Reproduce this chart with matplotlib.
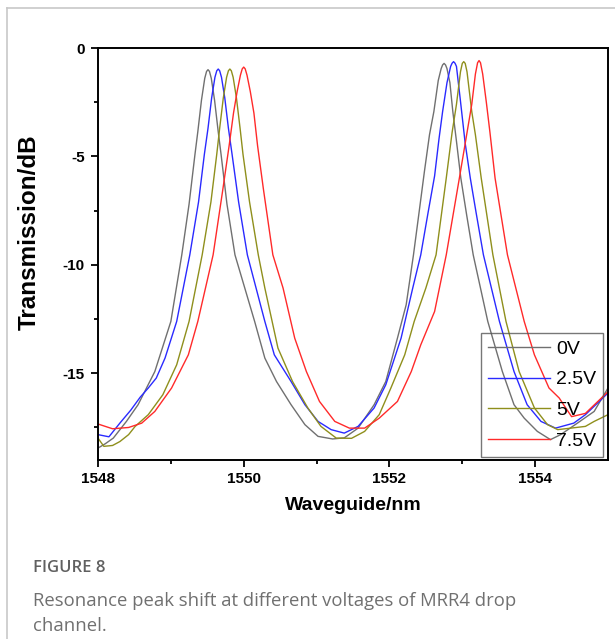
import matplotlib
matplotlib.use("Agg")
import matplotlib.pyplot as plt
from matplotlib.lines import Line2D

# wavelength (nm) / transmission (dB)
wl_0v = [1548.00, 1548.10, 1548.21, 1548.39, 1548.55, 1548.78, 1549.00, 1549.15, 1549.25,
         1549.33, 1549.37, 1549.42, 1549.465, 1549.49, 1549.51, 1549.53, 1549.555, 1549.60,
         1549.65, 1549.69, 1549.77, 1549.88, 1550.15, 1550.29, 1550.45, 1550.65, 1550.84,
         1551.02, 1551.22, 1551.38, 1551.57, 1551.79, 1551.95, 1552.11, 1552.23, 1552.33,
         1552.41, 1552.48, 1552.55, 1552.61, 1552.67, 1552.71, 1552.73, 1552.75, 1552.77,
         1552.79, 1552.83, 1552.87, 1552.92, 1552.98, 1553.06, 1553.15, 1553.35, 1553.55,
         1553.71, 1553.85, 1554.03, 1554.21, 1554.35, 1554.58, 1554.81, 1555.00]
db_0v = [-18.45, -18.25, -17.99, -17.22, -16.45, -14.92, -12.61, -9.54, -7.2,
         -4.93, -3.86, -2.41, -1.4, -1.08, -1.00, -1.08, -1.4, -2.41,
         -3.86, -4.93, -7.2, -9.54, -12.61, -14.30, -15.38, -16.45, -17.37,
         -17.91, -18.03, -17.98, -17.53, -16.45, -15.38, -13.38, -11.84, -9.54,
         -7.5, -5.7, -4.0, -2.93, -1.5, -0.95, -0.78, -0.71, -0.78,
         -0.95, -1.6, -2.93, -4.3, -6.0, -7.7, -9.54, -12.61, -14.92,
         -16.45, -17.07, -17.68, -18.06, -17.83, -17.30, -16.76, -15.68]

wl_25v = [1548.00, 1548.15, 1548.30, 1548.45, 1548.58, 1548.69, 1548.80, 1548.92, 1549.08,
          1549.26, 1549.38, 1549.46, 1549.51, 1549.56, 1549.605, 1549.63, 1549.65, 1549.67,
          1549.695, 1549.74, 1549.79, 1549.84, 1549.93, 1550.05, 1550.29, 1550.42, 1550.65,
          1550.84, 1551.02, 1551.20, 1551.38, 1551.57, 1551.79, 1551.95, 1552.16, 1552.32,
          1552.43, 1552.53, 1552.62, 1552.68, 1552.73, 1552.79, 1552.84, 1552.86, 1552.88,
          1552.90, 1552.92, 1552.97, 1553.04, 1553.11, 1553.19, 1553.29, 1553.51, 1553.71,
          1553.89, 1554.08, 1554.28, 1554.53, 1554.69, 1555.00]
db_25v = [-17.83, -17.93, -17.3, -16.7, -16.1, -15.68, -15.22, -14.3, -12.61,
          -9.54, -7.1, -4.9, -3.7, -2.3, -1.35, -1.05, -0.97, -1.05,
          -1.35, -2.3, -3.7, -4.9, -7.1, -9.54, -12.61, -14.15, -15.38,
          -16.45, -17.22, -17.6, -17.76, -17.45, -16.60, -15.53, -13.38, -11.07,
          -9.54, -7.6, -5.9, -4.2, -2.93, -1.6, -0.85, -0.7, -0.63,
          -0.7, -0.85, -2.3, -4.4, -6.0, -7.6, -9.54, -12.61, -14.92,
          -16.45, -17.22, -17.53, -17.30, -16.91, -15.91]

wl_5v = [1548.00, 1548.08, 1548.20, 1548.30, 1548.42, 1548.51, 1548.69, 1548.89, 1549.08,
         1549.25, 1549.43, 1549.55, 1549.63, 1549.67, 1549.72, 1549.765, 1549.79, 1549.81,
         1549.83, 1549.855, 1549.90, 1549.95, 1549.99, 1550.08, 1550.20, 1550.29, 1550.47,
         1550.67, 1550.88, 1551.06, 1551.27, 1551.48, 1551.66, 1551.86, 1552.02, 1552.21,
         1552.34, 1552.50, 1552.64, 1552.78, 1552.86, 1552.92, 1552.975, 1553.00, 1553.02,
         1553.04, 1553.065, 1553.13, 1553.18, 1553.26, 1553.42, 1553.60, 1553.78, 1553.99,
         1554.17, 1554.31, 1554.49, 1554.69, 1554.81, 1555.00]
db_5v = [-17.99, -18.37, -18.33, -18.15, -17.83, -17.45, -16.91, -15.99, -14.61,
         -12.61, -9.54, -7.1, -4.9, -3.7, -2.3, -1.35, -1.05, -0.97,
         -1.05, -1.35, -2.3, -3.7, -4.9, -7.1, -9.54, -11.07, -13.84,
         -15.38, -16.60, -17.45, -17.99, -18.00, -17.68, -16.91, -15.68, -14.15,
         -12.61, -11.07, -9.54, -6.0, -3.9, -2.6, -1.1, -0.71, -0.63,
         -0.71, -1.1, -2.93, -4.0, -6.0, -9.54, -12.61, -14.92, -16.60,
         -17.37, -17.6, -17.53, -17.45, -17.22, -16.91]

wl_75v = [1548.00, 1548.20, 1548.42, 1548.60, 1548.78, 1549.01, 1549.24, 1549.37, 1549.58,
          1549.71, 1549.80, 1549.86, 1549.91, 1549.955, 1549.98, 1550.00, 1550.02, 1550.045,
          1550.09, 1550.14, 1550.19, 1550.27, 1550.40, 1550.54, 1550.70, 1550.86, 1551.04,
          1551.25, 1551.45, 1551.66, 1551.86, 1552.11, 1552.30, 1552.43, 1552.62, 1552.78,
          1552.96, 1553.06, 1553.13, 1553.18, 1553.21, 1553.23, 1553.25, 1553.28, 1553.33,
          1553.38, 1553.45, 1553.62, 1553.85, 1553.99, 1554.19, 1554.33, 1554.42, 1554.50,
          1554.69, 1555.00]
db_75v = [-17.34, -17.56, -17.50, -17.30, -16.76, -15.68, -14.15, -12.61, -9.54,
          -6.6, -4.5, -3.0, -2.0, -1.25, -0.96, -0.88, -0.96, -1.25,
          -2.0, -3.0, -4.5, -6.5, -9.54, -11.07, -13.38, -14.92, -16.30,
          -17.22, -17.53, -17.53, -17.07, -16.30, -14.92, -13.69, -12.15, -9.54,
          -6.0, -4.0, -2.6, -1.2, -0.68, -0.58, -0.68, -1.2, -2.5,
          -3.9, -6.0, -9.54, -12.61, -14.15, -15.68, -16.14, -16.60, -17.0,
          -16.85, -15.85]

labels = ["0V", "2.5V", "5V", "7.5V"]
colors = ["#707070", "#2a2aff", "#8f8f1c", "#ff2a2a"]

plt.rcParams["font.family"] = "Liberation Sans"
plt.rcParams["font.weight"] = "bold"
plt.rcParams["axes.labelweight"] = "bold"
plt.rcParams["axes.unicode_minus"] = False

fig = plt.figure(figsize=(6.15, 6.39), dpi=100)

# light card border of the journal figure
fig.add_artist(Line2D([7 / 615, 7 / 615], [0, 1 - 8 / 639], color="#c8c8c8", lw=1.2))
fig.add_artist(Line2D([7 / 615, 1], [1 - 8 / 639, 1 - 8 / 639], color="#c8c8c8", lw=1.2))

ax = fig.add_axes([98 / 615, 1 - 460 / 639, 510 / 615, 412 / 639])

for wl, db, lab, c in zip([wl_0v, wl_25v, wl_5v, wl_75v],
                          [db_0v, db_25v, db_5v, db_75v], labels, colors):
    ax.plot(wl, db, color=c, lw=1.0, label=lab)

ax.set_xlim(1548, 1555)
ax.set_ylim(-19, 0)
ax.set_xticks([1548, 1550, 1552, 1554])
ax.set_xticks([1549, 1551, 1553], minor=True)
ax.set_yticks([0, -5, -10, -15])
ax.set_yticks([-2.5, -7.5, -12.5, -17.5], minor=True)
ax.tick_params(which="major", direction="out", length=5, width=1.3, labelsize=11)
ax.tick_params(which="minor", direction="out", length=3, width=1.3)
ax.tick_params(axis="x", pad=3.5)
ax.tick_params(axis="y", pad=4.5)
for s in ax.spines.values():
    s.set_linewidth(1.4)

ax.set_xlabel("Waveguide/nm", fontsize=14, fontweight="bold")
ax.xaxis.set_label_coords(0.5, (460 - 497) / 412)
ax.set_ylabel("Transmission/dB", fontsize=17.5, fontweight="bold")
ax.yaxis.set_label_coords((41 - 98) / 510, (460 - 232) / 412)

leg = ax.legend(loc="upper left", bbox_to_anchor=(481 / 615, 1 - 333 / 639),
                bbox_transform=fig.transFigure, borderaxespad=0,
                prop={"family": "Liberation Sans", "weight": "normal", "size": 14},
                handlelength=3.2, handletextpad=0.3, labelspacing=0.68,
                borderpad=0.36, fancybox=False)
leg.get_frame().set_facecolor("none")
leg.get_frame().set_edgecolor("#555555")
leg.get_frame().set_linewidth(1.0)

fig.text(33 / 615, 1 - 568 / 639, "FIGURE 8", fontfamily="Open Sans", fontweight="semibold",
         fontsize=12, color="#606060", va="center")
fig.text(33 / 615, 1 - 601 / 639, "Resonance peak shift at different voltages of MRR4 drop",
         fontfamily="Open Sans", fontweight="normal", fontsize=13.3, color="#707070",
         va="center")
fig.text(33 / 615, 1 - 626 / 639, "channel.", fontfamily="Open Sans", fontweight="normal",
         fontsize=13.3, color="#707070", va="center")

fig.savefig("out.png", dpi=100)
